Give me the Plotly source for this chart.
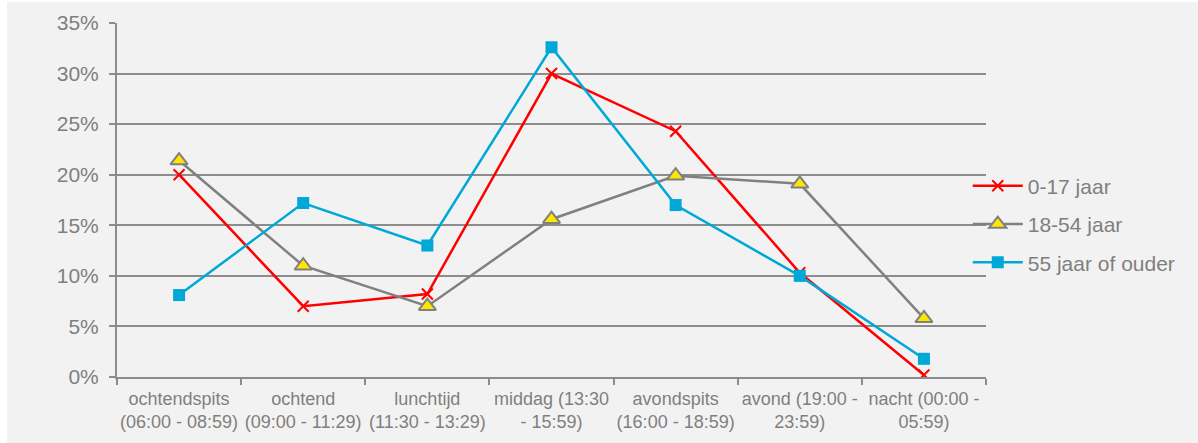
import plotly.graph_objects as go

categories = [
    "ochtendspits<br>(06:00 - 08:59)",
    "ochtend<br>(09:00 - 11:29)",
    "lunchtijd<br>(11:30 - 13:29)",
    "middag (13:30<br>- 15:59)",
    "avondspits<br>(16:00 - 18:59)",
    "avond (19:00 -<br>23:59)",
    "nacht (00:00 -<br>05:59)",
]
jong = [20.0, 7.0, 8.2, 30.0, 24.3, 10.3, 0.2]
midden = [21.4, 11.0, 7.0, 15.6, 19.9, 19.1, 5.8]
oud = [8.1, 17.2, 13.0, 32.6, 17.0, 10.0, 1.8]
yticks = [0, 5, 10, 15, 20, 25, 30, 35]

grey_txt = "#7f7f7f"
grid = "#8c8c8c"
bg = "#f2f2f2"

fig = go.Figure()

fig.add_trace(go.Scatter(
    x=categories, y=jong, name="0-17 jaar", mode="lines+markers",
    line=dict(color="#ff0000", width=2.5),
    marker=dict(symbol="x-thin", size=11, line=dict(color="#ff0000", width=2)),
    legendgroup="a",
))
fig.add_trace(go.Scatter(
    x=categories, y=midden, name="18-54 jaar", mode="lines+markers",
    line=dict(color="#808080", width=2.5),
    marker=dict(symbol="triangle-up", size=15, color="#ffe600",
                line=dict(color="#808080", width=2)),
    legendgroup="b",
))
fig.add_trace(go.Scatter(
    x=categories, y=oud, name="55 jaar of ouder", mode="lines+markers",
    line=dict(color="#00a8d8", width=2.5),
    marker=dict(symbol="square", size=12, color="#00a8d8"),
    legendgroup="c",
))

# grey panel, leaving a thin white strip at the left and top like the source
fig.add_shape(type="rect", xref="paper", yref="paper",
              x0=-110 / 869, x1=1081 / 869, y0=-66 / 354, y1=375 / 354,
              fillcolor=bg, line=dict(width=0), layer="below")

fig.update_layout(
    width=1198, height=443,
    margin=dict(l=117, r=212, t=23, b=66),
    paper_bgcolor="white",
    plot_bgcolor=bg,
    font=dict(family="Liberation Sans, Arial, sans-serif", color=grey_txt, size=21),
    showlegend=True,
    legend=dict(
        x=0.979, y=0.432, xanchor="left", yanchor="middle",
        bgcolor="rgba(0,0,0,0)", font=dict(size=21, color=grey_txt),
        itemwidth=50, tracegroupgap=8,
    ),
    xaxis=dict(
        type="category", showgrid=False, showline=True, linecolor=grid, linewidth=2,
        ticks="outside", tickson="boundaries", ticklen=6, tickcolor=grid, tickwidth=2,
        tickfont=dict(size=18, color=grey_txt), range=[-0.5, 6.5],
        tickangle=0, automargin=False, ticklabelstandoff=4,
    ),
    yaxis=dict(
        range=[0, 35], tickvals=yticks, ticktext=[f"{v}%" for v in yticks],
        showgrid=True, gridcolor=grid, gridwidth=2,
        showline=True, linecolor=grid, linewidth=2,
        ticks="outside", ticklen=6, tickcolor=grid, tickwidth=2,
        tickfont=dict(size=21, color=grey_txt), ticklabelstandoff=6,
        zeroline=False, automargin=False,
    ),
)

# drop the default 8px page margin so the figure sits at the window's corner
fig.write_html("out.html", config={"displayModeBar": False},
               post_script="document.body.style.margin = '0';")
